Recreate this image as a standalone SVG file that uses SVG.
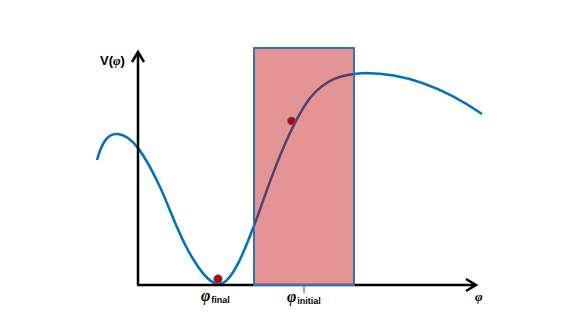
<svg xmlns="http://www.w3.org/2000/svg" width="581" height="327" viewBox="0 0 581 327">
<style>
.curve{fill:none;stroke:#0070C0;stroke-width:2.5}
.axis{fill:none;stroke:#000;stroke-width:2.5}
.dot{fill:#C00000;stroke:#2E75B6;stroke-width:0.8}
.lbl{font-family:"Liberation Sans",Arial,sans-serif;font-weight:bold;fill:#000}
.phi{font-family:"Liberation Serif","DejaVu Serif",serif;font-style:italic;font-weight:bold;fill:#000}
</style>
<rect width="581" height="327" fill="#fff"/>
<g id="potential-curve">
<path class="curve" d="M97,160 C102,142 108,133 118,134 C132,135 145,155 160,187 C172,213 180,240 195,262 C205,278 212,284 219,284 C232,284 245,250 258,215 C272,175 290,125 310,98 C325,80 340,74 365,73 C400,73 440,85 482,114"/>
</g>
<g id="axes">
<path class="axis" d="M138,285 L138,52 M132,62 L138,52 L144,62"/>
<path class="axis" d="M137,285 L476,285 M466,279 L476,285 L466,291"/>
</g>
<g id="region">
<rect x="254" y="48" width="100" height="237" fill="#C00000" fill-opacity="0.42" stroke="#2E75B6" stroke-width="2"/>
<line x1="304" y1="285" x2="304" y2="293" stroke="#2E75B6" stroke-width="1.2"/>
</g>
<g id="dots">
<circle class="dot" cx="218" cy="279" r="4.2"/>
<circle class="dot" cx="291.5" cy="121" r="4"/>
</g>
<g id="labels">
<text x="100" y="65" class="lbl" font-size="13">V(<tspan class="phi">φ</tspan>)</text>
<text x="201" y="301" class="phi" font-size="16">φ<tspan class="lbl" font-size="9" font-style="normal" dx="1" dy="2">final</tspan></text>
<text x="287" y="302" class="phi" font-size="16">φ<tspan class="lbl" font-size="9" font-style="normal" dx="1" dy="2">initial</tspan></text>
<text x="475" y="301" class="phi" font-size="13">φ</text>
</g>
</svg>
